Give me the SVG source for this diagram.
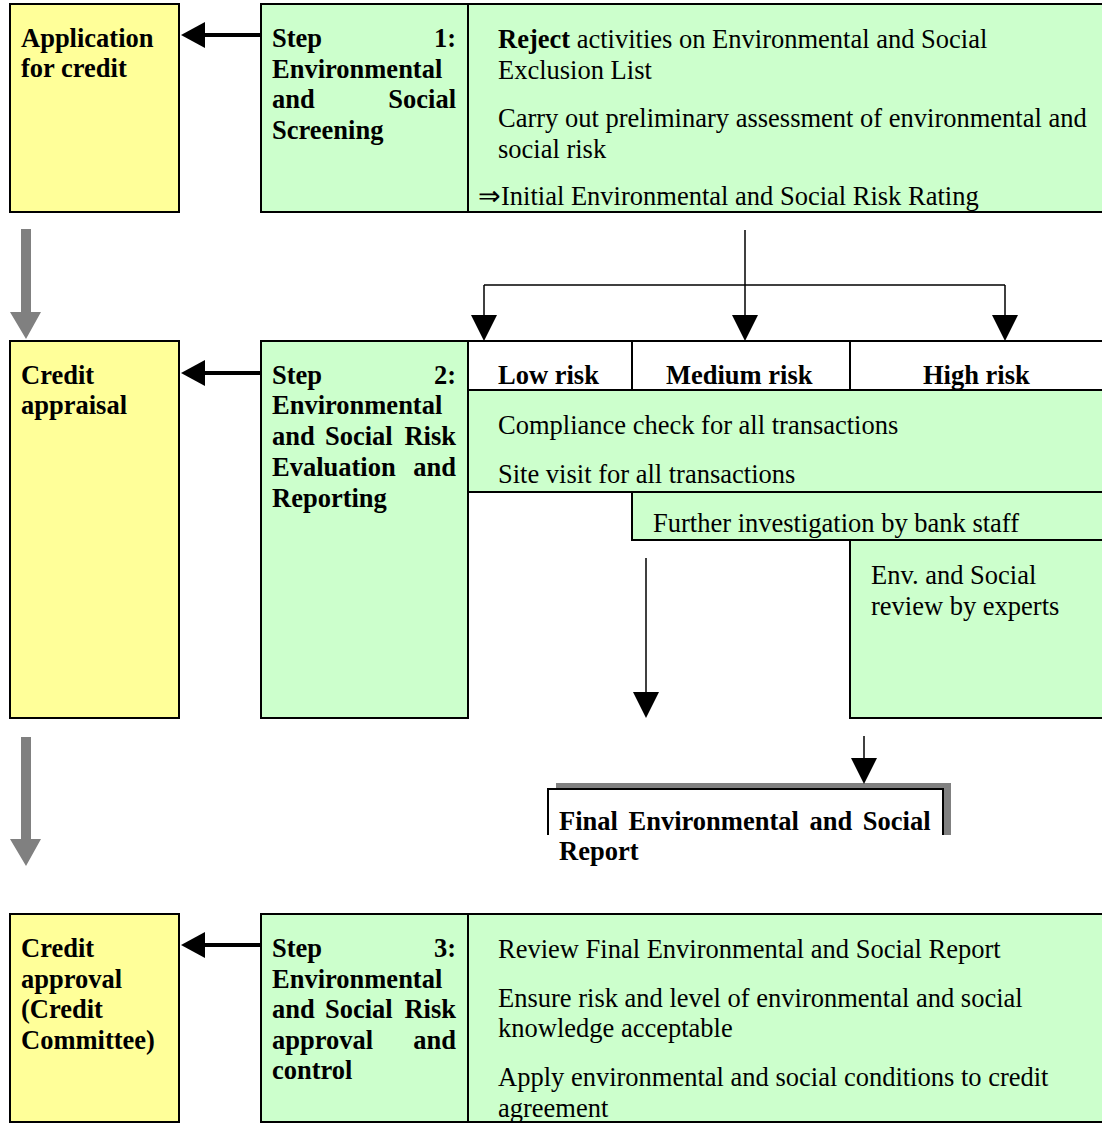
<svg xmlns="http://www.w3.org/2000/svg" width="1102" height="1124" viewBox="0 0 1102 1124">
<style>
text{font-family:"Liberation Serif","Times New Roman",serif;font-size:26.5px;fill:#000}
.b{font-weight:bold}
.e{text-anchor:end}
.y{fill:#ffff99;stroke:#000;stroke-width:2}
.g{fill:#ccffcc;stroke:#000;stroke-width:2}
.w{fill:#fff;stroke:#000;stroke-width:2}
.ln{stroke:#000;stroke-width:2;fill:none}
.thin{stroke:#000;stroke-width:1.5;fill:none}
.thick{stroke:#000;stroke-width:4;fill:none}
.gray{fill:#808080}
</style>
<defs>
<marker id="ah" viewBox="0 0 26 26" refX="0" refY="13" markerWidth="26" markerHeight="26" markerUnits="userSpaceOnUse" orient="auto">
<path d="M0,0 L26,13 L0,26 Z" fill="#000"/>
</marker>
<marker id="ahl" viewBox="0 0 26 26" refX="0" refY="13" markerWidth="26" markerHeight="26" markerUnits="userSpaceOnUse" orient="auto">
<path d="M0,0 L24,13 L0,26 Z" fill="#000"/>
</marker>
</defs>

<!-- Row 1 -->
<g id="application">
<rect class="y" x="10" y="4" width="169" height="208"/>
<text class="b" x="21" y="47">Application</text>
<text class="b" x="21" y="77">for credit</text>
</g>
<g id="step1">
<rect class="g" x="261" y="4" width="207" height="208"/>
<text class="b" x="272" y="47">Step</text><text class="b e" x="456" y="47">1:</text>
<text class="b" x="272" y="78">Environmental</text>
<text class="b" x="272" y="108">and</text><text class="b e" x="456" y="108">Social</text>
<text class="b" x="272" y="139">Screening</text>
</g>
<g id="step1-detail">
<rect class="g" x="468" y="4" width="640" height="208"/>
<text x="498" y="48"><tspan class="b">Reject</tspan> activities on Environmental and Social</text>
<text x="498" y="79">Exclusion List</text>
<text x="498" y="127">Carry out preliminary assessment of environmental and</text>
<text x="498" y="158">social risk</text>
<text x="478" y="205">⇒Initial Environmental and Social Risk Rating</text>
</g>

<!-- Row 2 -->
<g id="credit-appraisal">
<rect class="y" x="10" y="341" width="169" height="377"/>
<text class="b" x="21" y="384">Credit</text>
<text class="b" x="21" y="414">appraisal</text>
</g>
<g id="step2">
<rect class="g" x="261" y="341" width="207" height="377"/>
<text class="b" x="272" y="384">Step</text><text class="b e" x="456" y="384">2:</text>
<text class="b" x="272" y="414">Environmental</text>
<text class="b" x="272" y="445">and</text><text class="b" x="325" y="445">Social</text><text class="b e" x="456" y="445">Risk</text>
<text class="b" x="272" y="476">Evaluation</text><text class="b e" x="456" y="476">and</text>
<text class="b" x="272" y="507">Reporting</text>
</g>
<g id="risk-header">
<rect class="w" x="468" y="341" width="640" height="49"/>
<line class="ln" x1="632" y1="341" x2="632" y2="390"/>
<line class="ln" x1="850" y1="341" x2="850" y2="390"/>
<text class="b" x="498" y="384">Low risk</text>
<text class="b" x="666" y="384">Medium risk</text>
<text class="b" x="923" y="384">High risk</text>
</g>
<g id="all-checks">
<rect class="g" x="468" y="390" width="640" height="102"/>
<text x="498" y="434">Compliance check for all transactions</text>
<text x="498" y="483">Site visit for all transactions</text>
</g>
<g id="further-investigation">
<rect class="g" x="632" y="492" width="476" height="48"/>
<text x="653" y="532">Further investigation by bank staff</text>
</g>
<g id="expert-review">
<rect class="g" x="850" y="540" width="258" height="178"/>
<text x="871" y="584">Env. and Social</text>
<text x="871" y="615">review by experts</text>
</g>
<line class="ln" x1="468" y1="390" x2="468" y2="718"/>

<g id="final-report">
<rect class="gray" x="556" y="783" width="395" height="6"/>
<rect class="gray" x="943" y="783" width="8" height="52"/>
<path class="ln" d="M548,835 L548,789 L943,789 L943,835"/>
<text class="b" x="559" y="830" word-spacing="4">Final Environmental and Social</text>
<text class="b" x="559" y="860">Report</text>
</g>

<!-- Row 3 -->
<g id="credit-approval">
<rect class="y" x="10" y="914" width="169" height="208"/>
<text class="b" x="21" y="957">Credit</text>
<text class="b" x="21" y="988">approval</text>
<text class="b" x="21" y="1018">(Credit</text>
<text class="b" x="21" y="1049">Committee)</text>
</g>
<g id="step3">
<rect class="g" x="261" y="914" width="207" height="208"/>
<text class="b" x="272" y="957">Step</text><text class="b e" x="456" y="957">3:</text>
<text class="b" x="272" y="988">Environmental</text>
<text class="b" x="272" y="1018">and</text><text class="b" x="325" y="1018">Social</text><text class="b e" x="456" y="1018">Risk</text>
<text class="b" x="272" y="1049">approval</text><text class="b e" x="456" y="1049">and</text>
<text class="b" x="272" y="1079">control</text>
</g>
<g id="step3-detail">
<rect class="g" x="468" y="914" width="640" height="208"/>
<text x="498" y="958">Review Final Environmental and Social Report</text>
<text x="498" y="1007">Ensure risk and level of environmental and social</text>
<text x="498" y="1037">knowledge acceptable</text>
<text x="498" y="1086">Apply environmental and social conditions to credit</text>
<text x="498" y="1117">agreement</text>
</g>

<!-- Connectors -->
<g id="connectors">
<line class="thick" x1="261" y1="35" x2="205" y2="35" marker-end="url(#ahl)"/>
<line class="thick" x1="261" y1="373" x2="205" y2="373" marker-end="url(#ahl)"/>
<line class="thick" x1="261" y1="945" x2="205" y2="945" marker-end="url(#ahl)"/>

<path class="gray" d="M21,229 L31,229 L31,312 L41,312 L26,339 L10,312 L21,312 Z"/>
<path class="gray" d="M21,737 L31,737 L31,839 L41,839 L26,866 L10,839 L21,839 Z"/>

<line class="thin" x1="745" y1="230" x2="745" y2="315" marker-end="url(#ah)"/>
<line class="thin" x1="484" y1="285" x2="1005" y2="285"/>
<line class="thin" x1="484" y1="285" x2="484" y2="315" marker-end="url(#ah)"/>
<line class="thin" x1="1005" y1="285" x2="1005" y2="315" marker-end="url(#ah)"/>

<line class="thin" x1="646" y1="558" x2="646" y2="692" marker-end="url(#ah)"/>
<line class="thin" x1="864" y1="736" x2="864" y2="758" marker-end="url(#ah)"/>
</g>
</svg>
